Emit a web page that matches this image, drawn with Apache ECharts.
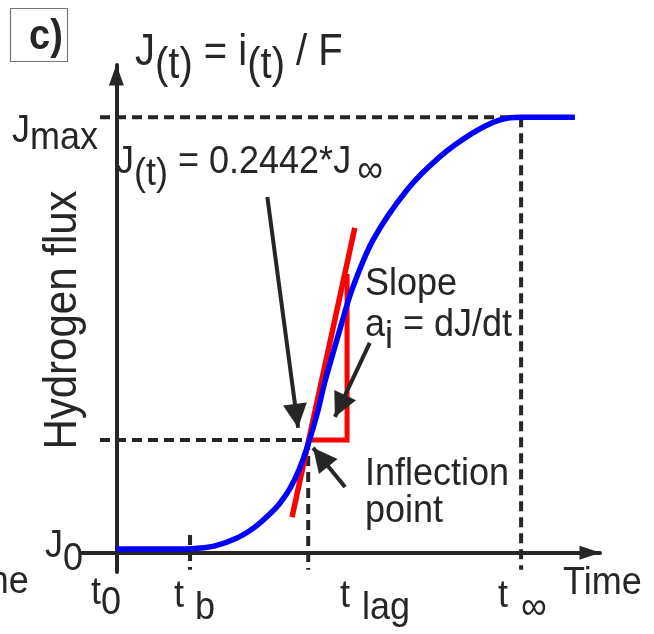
<!DOCTYPE html>
<html>
<head>
<meta charset="utf-8">
<script src="https://cdn.jsdelivr.net/npm/echarts@6/dist/echarts.min.js"></script>
<style>
html,body{margin:0;padding:0;background:#fff;}
#chart{width:654px;height:634px;}
</style>
</head>
<body>
<div id="chart"></div>
<script>
// ---------------- data ----------------
const curveT = [0, 8.3, 16.9, 20.7, 24.4, 29.8, 34.2, 37.9, 40.4, 42.9, 45.1, 47.1, 49.6, 51.5, 55.2, 58.2, 63.4, 71.8, 79.9, 88.1, 94.8, 100, 113.3];
const curveJ = [0.009, 0.009, 0.009, 0.011, 0.016, 0.034, 0.059, 0.089, 0.114, 0.148, 0.19, 0.241, 0.319, 0.392, 0.512, 0.604, 0.718, 0.833, 0.909, 0.964, 0.994, 1.0, 1.0];
const tangentT = [43.4, 58.9];
const tangentJ = [0.082, 0.746];
const triangleT = [47.5, 57.0, 57.0];
const triangleJ = [0.259, 0.259, 0.64];
const tB = 18.2, tLag = 47.4, tInf = 100;
const jMax = 1.0, jInfl = 0.259;
const dashLeft = -4.05, dashBottom = -0.039, tbTop = 0.041;
const arrowJt = [[37.3, 0.817], [44.9, 0.287]];
const arrowSlope = [[62.6, 0.482], [54.0, 0.312]];
const arrowInfl = [[56.5, 0.151], [48.6, 0.241]];
const tickLabels = [['t', '0'], ['t', 'b'], ['t', 'lag'], ['t', '∞']];
const yLabels = [['J', 'max'], ['J', '0']];

// ---------------- chart ----------------
const INK = '#262626';
const FONT = '"Liberation Sans", Arial, Helvetica, sans-serif';
const SY = 1.1; // vertical stretch of the lettering
const chart = echarts.init(document.getElementById('chart'), null, {renderer: 'canvas'});

const mctx = document.createElement('canvas').getContext('2d');
function tw(t, s, w) { mctx.font = (w || 'normal') + ' ' + s + 'px ' + FONT; return mctx.measureText(t).width; }
// parts: [text, size, dy, dx]
function richText(parts, x, base) {
  let cx = x; const out = [];
  parts.forEach(p => {
    const t = p[0], s = p[1], dy = p[2] || 0, dx = p[3] || 0;
    cx += dx;
    out.push({type: 'text', x: cx, y: base + dy, scaleY: SY, silent: true,
      style: {text: t, x: 0, y: -0.34 * s, font: s + 'px ' + FONT, fill: INK, align: 'left', verticalAlign: 'middle',
              textAlign: 'left', textVerticalAlign: 'middle'}});
    cx += tw(t, s);
  });
  return out;
}
const pair = (T, J) => T.map((t, i) => [t, J[i]]);
function dashSeries(pts) {
  return {type: 'line', data: pts, symbol: 'none', silent: true, z: 1,
    lineStyle: {color: INK, width: 4, type: [10, 6]}};
}
function arrowItem(a) {
  return [{coord: a[0], symbol: 'none'}, {coord: a[1], symbol: 'triangle', symbolSize: [24, 24], symbolOffset: [0, 12]}];
}

const S = 36; // label font size
const graphic = [
  {type: 'rect', shape: {x: 10.5, y: 8.5, width: 57, height: 53}, style: {fill: 'none', stroke: '#777', lineWidth: 1.2}},
  {type: 'text', x: 29, y: 52, scaleY: SY, style: {text: 'c)', x: 0, y: -0.34 * 38, font: 'bold 38px ' + FONT, fill: INK, align: 'left', verticalAlign: 'middle', textAlign: 'left', textVerticalAlign: 'middle'}},
  {type: 'text', x: 63, y: 320, rotation: Math.PI / 2, scaleY: SY, style: {text: 'Hydrogen flux', font: '42px ' + FONT, fill: INK, align: 'center', verticalAlign: 'middle', textAlign: 'center', textVerticalAlign: 'middle'}}
]
.concat(richText([['J', 40], ['(t)', 40, 13], [' = i', 40], ['(t)', 40, 13], [' / F', 40]], 135, 68))
.concat(richText([['J', S], ['(t)', S, 12], [' = 0.2442*J', S], ['∞', S, 9, 6]], 116, 176))
.concat(richText([[yLabels[0][0], S], [yLabels[0][1], S, 7]], 12, 145))
.concat(richText([[yLabels[1][0], S], [yLabels[1][1], S, 13]], 45, 560))
.concat(richText([[tickLabels[0][0], S], [tickLabels[0][1], S, 10]], 91, 607))
.concat(richText([[tickLabels[1][0], S], [tickLabels[1][1], S, 12, 11]], 174, 610))
.concat(richText([[tickLabels[2][0], S], [tickLabels[2][1], S, 12, 12]], 340, 610))
.concat(richText([[tickLabels[3][0], S], [tickLabels[3][1], S, 12, 13]], 498, 610))
.concat(richText([['Time', S]], 563, 597))
.concat(richText([['Time', S]], -50, 596))
.concat(richText([['Slope', S]], 365, 298))
.concat(richText([['a', S], ['i', S, 12], [' = dJ/dt', S]], 365, 339))
.concat(richText([['Inflection', S]], 365, 488))
.concat(richText([['point', S]], 365, 525));

const option = {
  animation: false,
  backgroundColor: '#fff',
  grid: {left: 82, width: 518, top: 65, height: 507},
  xAxis: {type: 'value', min: -8.5, max: 119.5,
    axisLine: {onZero: true, lineStyle: {color: INK, width: 4}, symbol: ['none', 'triangle'], symbolSize: [14, 21], symbolOffset: [0, -10]},
    axisTick: {show: false}, axisLabel: {show: false}, splitLine: {show: false}},
  yAxis: {type: 'value', min: -0.044, max: 1.12,
    axisLine: {show: true, onZero: true, lineStyle: {color: INK, width: 4}, symbol: ['none', 'triangle'], symbolSize: [15, 21], symbolOffset: [0, -10]},
    axisTick: {show: false}, axisLabel: {show: false}, splitLine: {show: false}},
  series: [
    dashSeries([[dashLeft, jMax], [tInf, jMax]]),
    dashSeries([[tInf, jMax], [tInf, dashBottom]]),
    dashSeries([[dashLeft, jInfl], [tLag, jInfl]]),
    dashSeries([[tLag, jInfl], [tLag, dashBottom]]),
    dashSeries([[tB, tbTop], [tB, dashBottom]]),
    {type: 'line', data: pair(triangleT, triangleJ), symbol: 'none', silent: true, z: 3,
      lineStyle: {color: '#ff0000', width: 5, join: 'miter'}},
    {type: 'line', data: pair(tangentT, tangentJ), symbol: 'none', silent: true, z: 3,
      lineStyle: {color: '#ff0000', width: 5.5, cap: 'butt'},
      markLine: {silent: true, animation: false, label: {show: false},
        lineStyle: {color: INK, width: 4, type: 'solid'},
        emphasis: {disabled: true},
        data: [arrowItem(arrowJt), arrowItem(arrowSlope), arrowItem(arrowInfl)]}},
    {type: 'line', data: pair(curveT, curveJ), symbol: 'none', silent: true, z: 4,
      smooth: 0.3,
      lineStyle: {color: '#0000ff', width: 5.5}}
  ],
  graphic: graphic
};
chart.setOption(option);
</script>
</body>
</html>
